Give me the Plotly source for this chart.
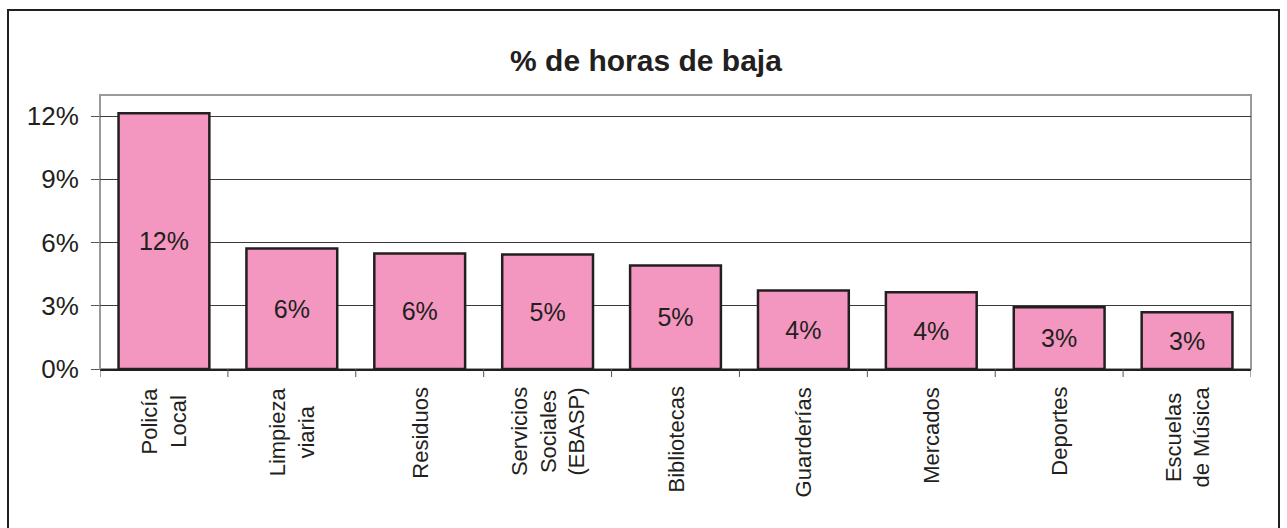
import plotly.graph_objects as go

categories = ["Policía<br>Local", "Limpieza<br>viaria", "Residuos", "Servicios<br>Sociales<br>(EBASP)",
              "Bibliotecas", "Guarderías", "Mercados", "Deportes", "Escuelas<br>de Música"]
values = [0.1214, 0.0572, 0.0548, 0.0543, 0.0491, 0.0373, 0.0364, 0.0293, 0.0269]
bar_labels = ["12%", "6%", "6%", "5%", "5%", "4%", "4%", "3%", "3%"]
y_ticks = [0, 0.03, 0.06, 0.09, 0.12]
y_tick_labels = ["0%", "3%", "6%", "9%", "12%"]
title = "% de horas de baja"

W, H = 1287, 528
L, R, T, B = 100, 1251, 95, 369
FONT = "Liberation Sans, Arial, sans-serif"
INK = "#231F20"

pw, ph = R - L, B - T
def px(x): return (x - L) / pw
def py(y): return (B - y) / ph

fig = go.Figure()
fig.add_trace(go.Bar(
    x=list(range(len(categories))), y=values,
    text=bar_labels, textposition="inside", insidetextanchor="middle",
    textangle=0,
    textfont=dict(family=FONT, size=25, color=INK),
    marker=dict(color="#F497C0", line=dict(color=INK, width=2.5)),
    width=0.71, hoverinfo="skip",
))

# outer chart border
fig.add_shape(type="rect", xref="paper", yref="paper",
              x0=px(8), x1=px(1279), y0=py(580), y1=py(10),
              line=dict(color=INK, width=2), layer="below")
# plot-area border
fig.add_shape(type="rect", xref="paper", yref="paper",
              x0=0, x1=1, y0=0, y1=1,
              line=dict(color="#9A9A9A", width=2), layer="below")

# category boundary ticks on x axis
for i in range(len(categories) + 1):
    fig.add_shape(type="line", xref="x", yref="paper", x0=i - 0.5, x1=i - 0.5,
                  y0=0, y1=-8 / ph, line=dict(color="#555555", width=1))

# category labels (rotated, centred lines)
for i, c in enumerate(categories):
    fig.add_annotation(x=i, xref="x", y=0, yref="paper", yshift=-16,
                       text=c, textangle=-90, showarrow=False,
                       xanchor="center", yanchor="top", align="center",
                       font=dict(family=FONT, size=22, color=INK))

fig.update_layout(
    width=W, height=H,
    margin=dict(l=L, r=W - R, t=T, b=H - B, autoexpand=False),
    paper_bgcolor="white", plot_bgcolor="white",
    showlegend=False,
    title=dict(text="<b>" + title + "</b>", x=646 / W, xanchor="center",
               y=1 - 60 / H, yanchor="middle",
               font=dict(family=FONT, size=30, color=INK)),
    xaxis=dict(
        tickmode="array", tickvals=list(range(len(categories))),
        showticklabels=False, range=[-0.5, len(categories) - 0.5],
        showgrid=False, showline=True, linecolor=INK, linewidth=1.5,
        ticks="", zeroline=False,
    ),
    yaxis=dict(
        range=[0, 0.13], tickvals=y_ticks, ticktext=y_tick_labels,
        showgrid=True, gridcolor="#3A3A3A", gridwidth=1,
        ticks="outside", ticklen=8, tickcolor="#555555", tickwidth=1,
        ticklabelstandoff=7,
        showline=False, zeroline=False,
        tickfont=dict(family=FONT, size=26, color=INK),
    ),
)

fig.write_html("out.html", config={"displayModeBar": False},
               post_script="document.body.style.margin='0';")
